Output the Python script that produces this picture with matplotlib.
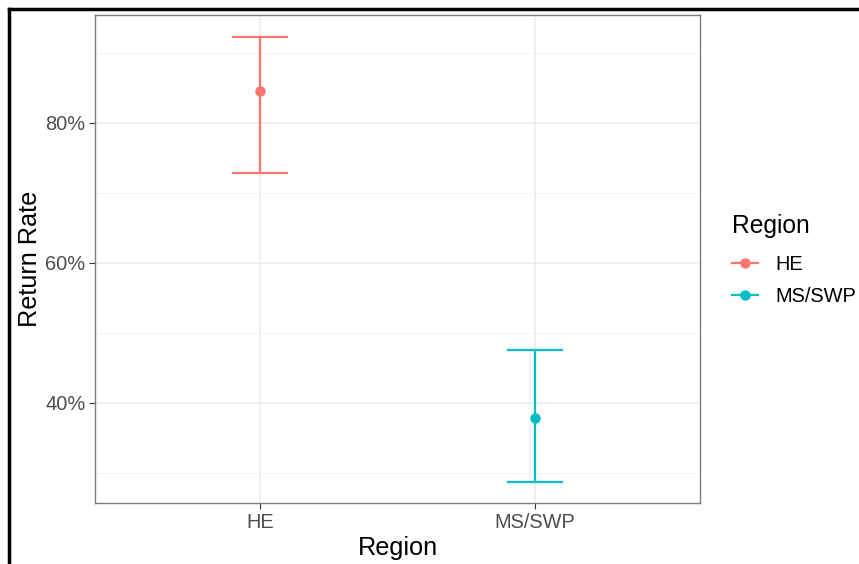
import matplotlib
matplotlib.use("Agg")
import matplotlib.pyplot as plt
from matplotlib.lines import Line2D
from matplotlib.ticker import FuncFormatter, MultipleLocator

plt.rcParams["font.family"] = ["Liberation Sans", "DejaVu Sans"]

# data
regions = ["HE", "MS/SWP"]
rate = [0.846, 0.379]
lower = [0.729, 0.287]
upper = [0.923, 0.475]
colors = ["#F8766D", "#00BFC4"]

fig = plt.figure(figsize=(8.59, 5.64), dpi=100)
ax = fig.add_axes([95 / 859, 1 - 503 / 564, 605 / 859, 488 / 564])

xs = list(range(1, len(regions) + 1))
for x, r, lo, hi, c in zip(xs, rate, lower, upper, colors):
    ax.errorbar([x], [r], yerr=[[r - lo], [hi - r]], fmt="o", color=c,
                ms=6.5, elinewidth=1.6, capsize=20, capthick=1.6, zorder=3)

ax.set_xlim(0.4, 2.6)
ax.set_ylim(0.257, 0.954)
ax.set_xticks(xs)
ax.set_xticklabels(regions)
ax.yaxis.set_major_locator(MultipleLocator(0.2))
ax.yaxis.set_minor_locator(MultipleLocator(0.1))
ax.yaxis.set_major_formatter(FuncFormatter(lambda v, p: f"{v * 100:.0f}%"))

ax.grid(which="major", color="#EBEBEB", lw=1.1, zorder=0)
ax.grid(which="minor", axis="y", color="#F2F2F2", lw=0.6, zorder=0)
ax.set_axisbelow(True)
for s in ax.spines.values():
    s.set_color("#7F7F7F")
    s.set_linewidth(1.0)
ax.tick_params(which="major", length=4, color="#333333", labelsize=14.4,
               labelcolor="#4D4D4D", pad=3)
ax.tick_params(which="minor", length=0)

ax.set_xlabel("Region", fontsize=18.2, color="black", labelpad=3)
ax.set_ylabel("Return Rate", fontsize=18.2, color="black", labelpad=2)

handles = [Line2D([0], [0], color=c, lw=1.6, marker="o", ms=6.5) for c in colors]
leg = fig.legend(handles, regions, title="Region", loc="upper left",
                 bbox_to_anchor=(732 / 859, 1 - 214 / 564), frameon=False,
                 fontsize=14.4, title_fontsize=17.7, handlelength=1.3,
                 handletextpad=0.85, borderpad=0, borderaxespad=0,
                 labelspacing=0.62, alignment="left")
leg._legend_box.sep = 12.5  # a bit more room under the title

# black frame round the screenshot
fig.add_artist(Line2D([9 / 859, 9 / 859], [0, 1 - 9 / 564], color="black", lw=2.5,
                      transform=fig.transFigure))
fig.add_artist(Line2D([9 / 859, 1], [1 - 9 / 564, 1 - 9 / 564], color="black", lw=2.5,
                      transform=fig.transFigure))

fig.savefig("out.png", dpi=100)
